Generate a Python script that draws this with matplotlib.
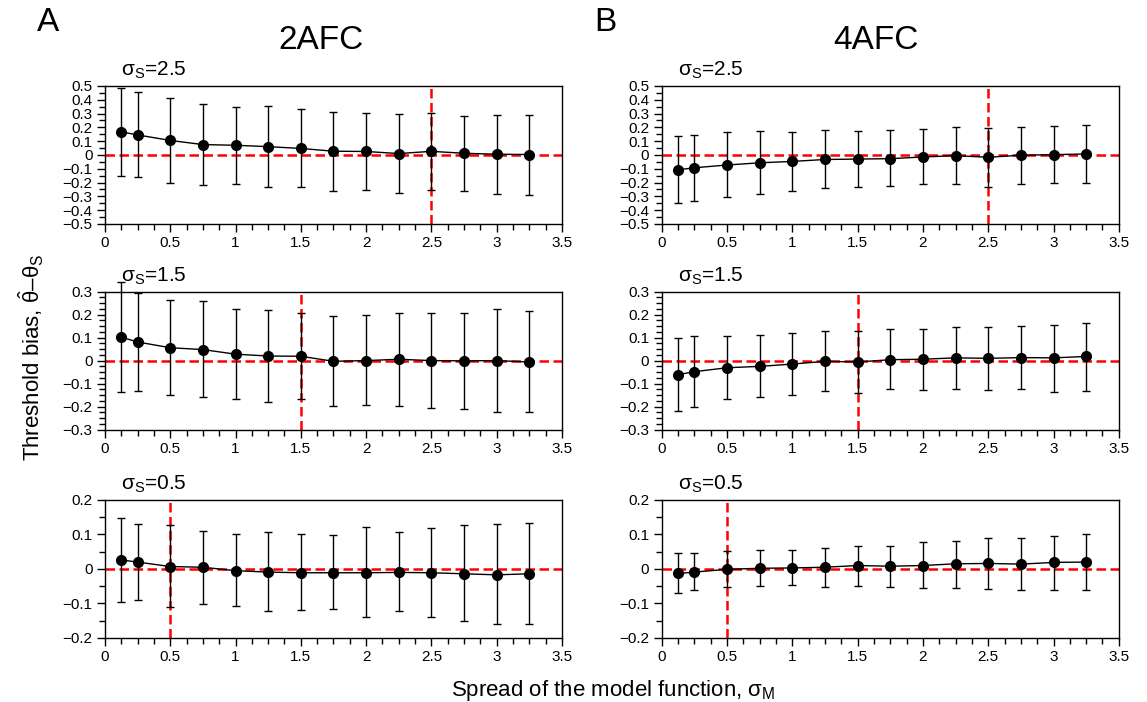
import numpy as np
import matplotlib
matplotlib.use('Agg')
import matplotlib.pyplot as plt
from matplotlib.ticker import MultipleLocator, FuncFormatter

plt.rcParams['font.family'] = ['Liberation Sans', 'DejaVu Sans']
plt.rcParams['mathtext.fontset'] = 'custom'
plt.rcParams['mathtext.rm'] = 'Liberation Sans'
plt.rcParams['mathtext.it'] = 'Liberation Sans:italic'

# ------------------------------------------------------------
# 数据
# ------------------------------------------------------------
sigma_m = [0.125, 0.25, 0.5, 0.75, 1.0, 1.25, 1.5, 1.75, 2.0, 2.25, 2.5, 2.75, 3.0, 3.25]
sigma_s = [2.5, 1.5, 0.5]

# 2AFC
afc2_s25_mean = [0.167, 0.145, 0.105, 0.075, 0.07, 0.06, 0.047, 0.027, 0.025, 0.01, 0.026, 0.012, 0.005, 0.003]
afc2_s25_hi = [0.485, 0.453, 0.414, 0.372, 0.35, 0.356, 0.33, 0.313, 0.305, 0.298, 0.305, 0.285, 0.29, 0.29]
afc2_s25_lo = [-0.155, -0.163, -0.204, -0.219, -0.214, -0.234, -0.229, -0.26, -0.254, -0.276, -0.254, -0.26, -0.28, -0.29]

afc2_s15_mean = [0.102, 0.081, 0.056, 0.048, 0.028, 0.02, 0.019, -0.003, 0.0, 0.006, 0.0, -0.001, 0.0, -0.006]
afc2_s15_hi = [0.343, 0.296, 0.262, 0.258, 0.224, 0.22, 0.206, 0.195, 0.198, 0.206, 0.206, 0.209, 0.223, 0.214]
afc2_s15_lo = [-0.135, -0.133, -0.148, -0.16, -0.167, -0.18, -0.168, -0.196, -0.195, -0.196, -0.206, -0.212, -0.223, -0.223]

afc2_s05_mean = [0.026, 0.02, 0.007, 0.005, -0.005, -0.009, -0.011, -0.011, -0.011, -0.01, -0.011, -0.014, -0.017, -0.014]
afc2_s05_hi = [0.147, 0.13, 0.126, 0.111, 0.1, 0.106, 0.1, 0.098, 0.121, 0.106, 0.118, 0.126, 0.129, 0.134]
afc2_s05_lo = [-0.095, -0.089, -0.11, -0.101, -0.108, -0.122, -0.12, -0.115, -0.14, -0.123, -0.139, -0.15, -0.159, -0.159]

# 4AFC
afc4_s25_mean = [-0.108, -0.093, -0.073, -0.057, -0.047, -0.033, -0.03, -0.027, -0.015, -0.005, -0.017, -0.002, 0.002, 0.007]
afc4_s25_hi = [0.135, 0.148, 0.165, 0.172, 0.167, 0.182, 0.177, 0.182, 0.187, 0.202, 0.197, 0.202, 0.207, 0.219]
afc4_s25_lo = [-0.345, -0.333, -0.305, -0.281, -0.261, -0.241, -0.232, -0.227, -0.214, -0.209, -0.229, -0.209, -0.204, -0.204]

afc4_s15_mean = [-0.061, -0.048, -0.031, -0.025, -0.015, -0.003, -0.006, 0.004, 0.006, 0.012, 0.01, 0.013, 0.012, 0.018]
afc4_s15_hi = [0.098, 0.107, 0.105, 0.11, 0.122, 0.127, 0.13, 0.136, 0.139, 0.145, 0.146, 0.151, 0.157, 0.164]
afc4_s15_lo = [-0.22, -0.202, -0.167, -0.158, -0.151, -0.132, -0.141, -0.124, -0.127, -0.123, -0.129, -0.124, -0.136, -0.13]

afc4_s05_mean = [-0.013, -0.009, -0.001, 0.002, 0.003, 0.005, 0.01, 0.008, 0.01, 0.015, 0.016, 0.014, 0.019, 0.02]
afc4_s05_hi = [0.045, 0.047, 0.051, 0.054, 0.054, 0.061, 0.068, 0.068, 0.077, 0.082, 0.09, 0.09, 0.097, 0.102]
afc4_s05_lo = [-0.07, -0.062, -0.051, -0.049, -0.046, -0.051, -0.05, -0.052, -0.056, -0.054, -0.058, -0.062, -0.06, -0.06]

panels = [
    [(afc2_s25_mean, afc2_s25_hi, afc2_s25_lo), (afc4_s25_mean, afc4_s25_hi, afc4_s25_lo)],
    [(afc2_s15_mean, afc2_s15_hi, afc2_s15_lo), (afc4_s15_mean, afc4_s15_hi, afc4_s15_lo)],
    [(afc2_s05_mean, afc2_s05_hi, afc2_s05_lo), (afc4_s05_mean, afc4_s05_hi, afc4_s05_lo)],
]
y_limits = [0.5, 0.3, 0.2]
y_major = [0.1, 0.1, 0.1]
y_minor = [0.05, 0.025, 0.05]


def tick_fmt(v, pos):
    v = round(v, 4) + 0.0
    return f'{v:g}'.replace('-', '\u2212')


# ------------------------------------------------------------
# 绘图
# ------------------------------------------------------------
fig = plt.figure(figsize=(11.47, 7.02), dpi=100)

col_left = [0.0915, 0.577]
row_bottom = [0.681, 0.388, 0.0912]
ax_w, ax_h = 0.3984, 0.1966
red_dash = (0, (3.8, 1.8))

for i, ss in enumerate(sigma_s):
    for j in range(2):
        mean, hi, lo = [np.array(a) for a in panels[i][j]]
        ax = fig.add_axes([col_left[j], row_bottom[i], ax_w, ax_h])
        ax.axhline(0, color='red', ls=red_dash, lw=1.8, zorder=1)
        ax.axvline(ss, color='red', ls=red_dash, lw=1.8, zorder=1)
        ax.errorbar(sigma_m, mean, yerr=[mean - lo, hi - mean], fmt='-o', color='black',
                    ecolor='black', elinewidth=1.0, capsize=3, capthick=1.0, lw=1.0,
                    ms=7, zorder=3, clip_on=False)

        lim = y_limits[i]
        ax.set_xlim(0, 3.5)
        ax.set_ylim(-lim, lim)
        ax.xaxis.set_major_locator(MultipleLocator(0.5))
        ax.xaxis.set_minor_locator(MultipleLocator(0.125))
        ax.yaxis.set_major_locator(MultipleLocator(y_major[i]))
        ax.yaxis.set_minor_locator(MultipleLocator(y_minor[i]))
        ax.xaxis.set_major_formatter(FuncFormatter(tick_fmt))
        ax.yaxis.set_major_formatter(FuncFormatter(tick_fmt))
        ax.tick_params(which='both', direction='out', top=False, right=False,
                       labelsize=11, pad=3)
        ax.tick_params(which='major', length=6, width=1)
        ax.tick_params(which='minor', length=4, width=1)
        for sp in ax.spines.values():
            sp.set_linewidth(1)

        ax.text(0.035, 1.035, r'$\mathregular{σ_S}$=' + f'{ss:g}', transform=ax.transAxes,
                fontsize=15, ha='left', va='bottom')

fig.text(0.042, 0.968, 'A', fontsize=24, ha='center', va='center')
fig.text(0.528, 0.968, 'B', fontsize=24, ha='center', va='center')
fig.text(0.280, 0.942, '2AFC', fontsize=24, ha='center', va='center')
fig.text(0.764, 0.942, '4AFC', fontsize=24, ha='center', va='center')

fig.text(0.027, 0.491, r'Threshold bias, $\mathregular{\hat{θ}}$–$\mathregular{θ_S}$',
         rotation=90, fontsize=16, ha='center', va='center')
fig.text(0.535, 0.008, r'Spread of the model function, $\mathregular{σ_M}$',
         fontsize=16, ha='center', va='baseline')

fig.savefig('out.png', dpi=100)
